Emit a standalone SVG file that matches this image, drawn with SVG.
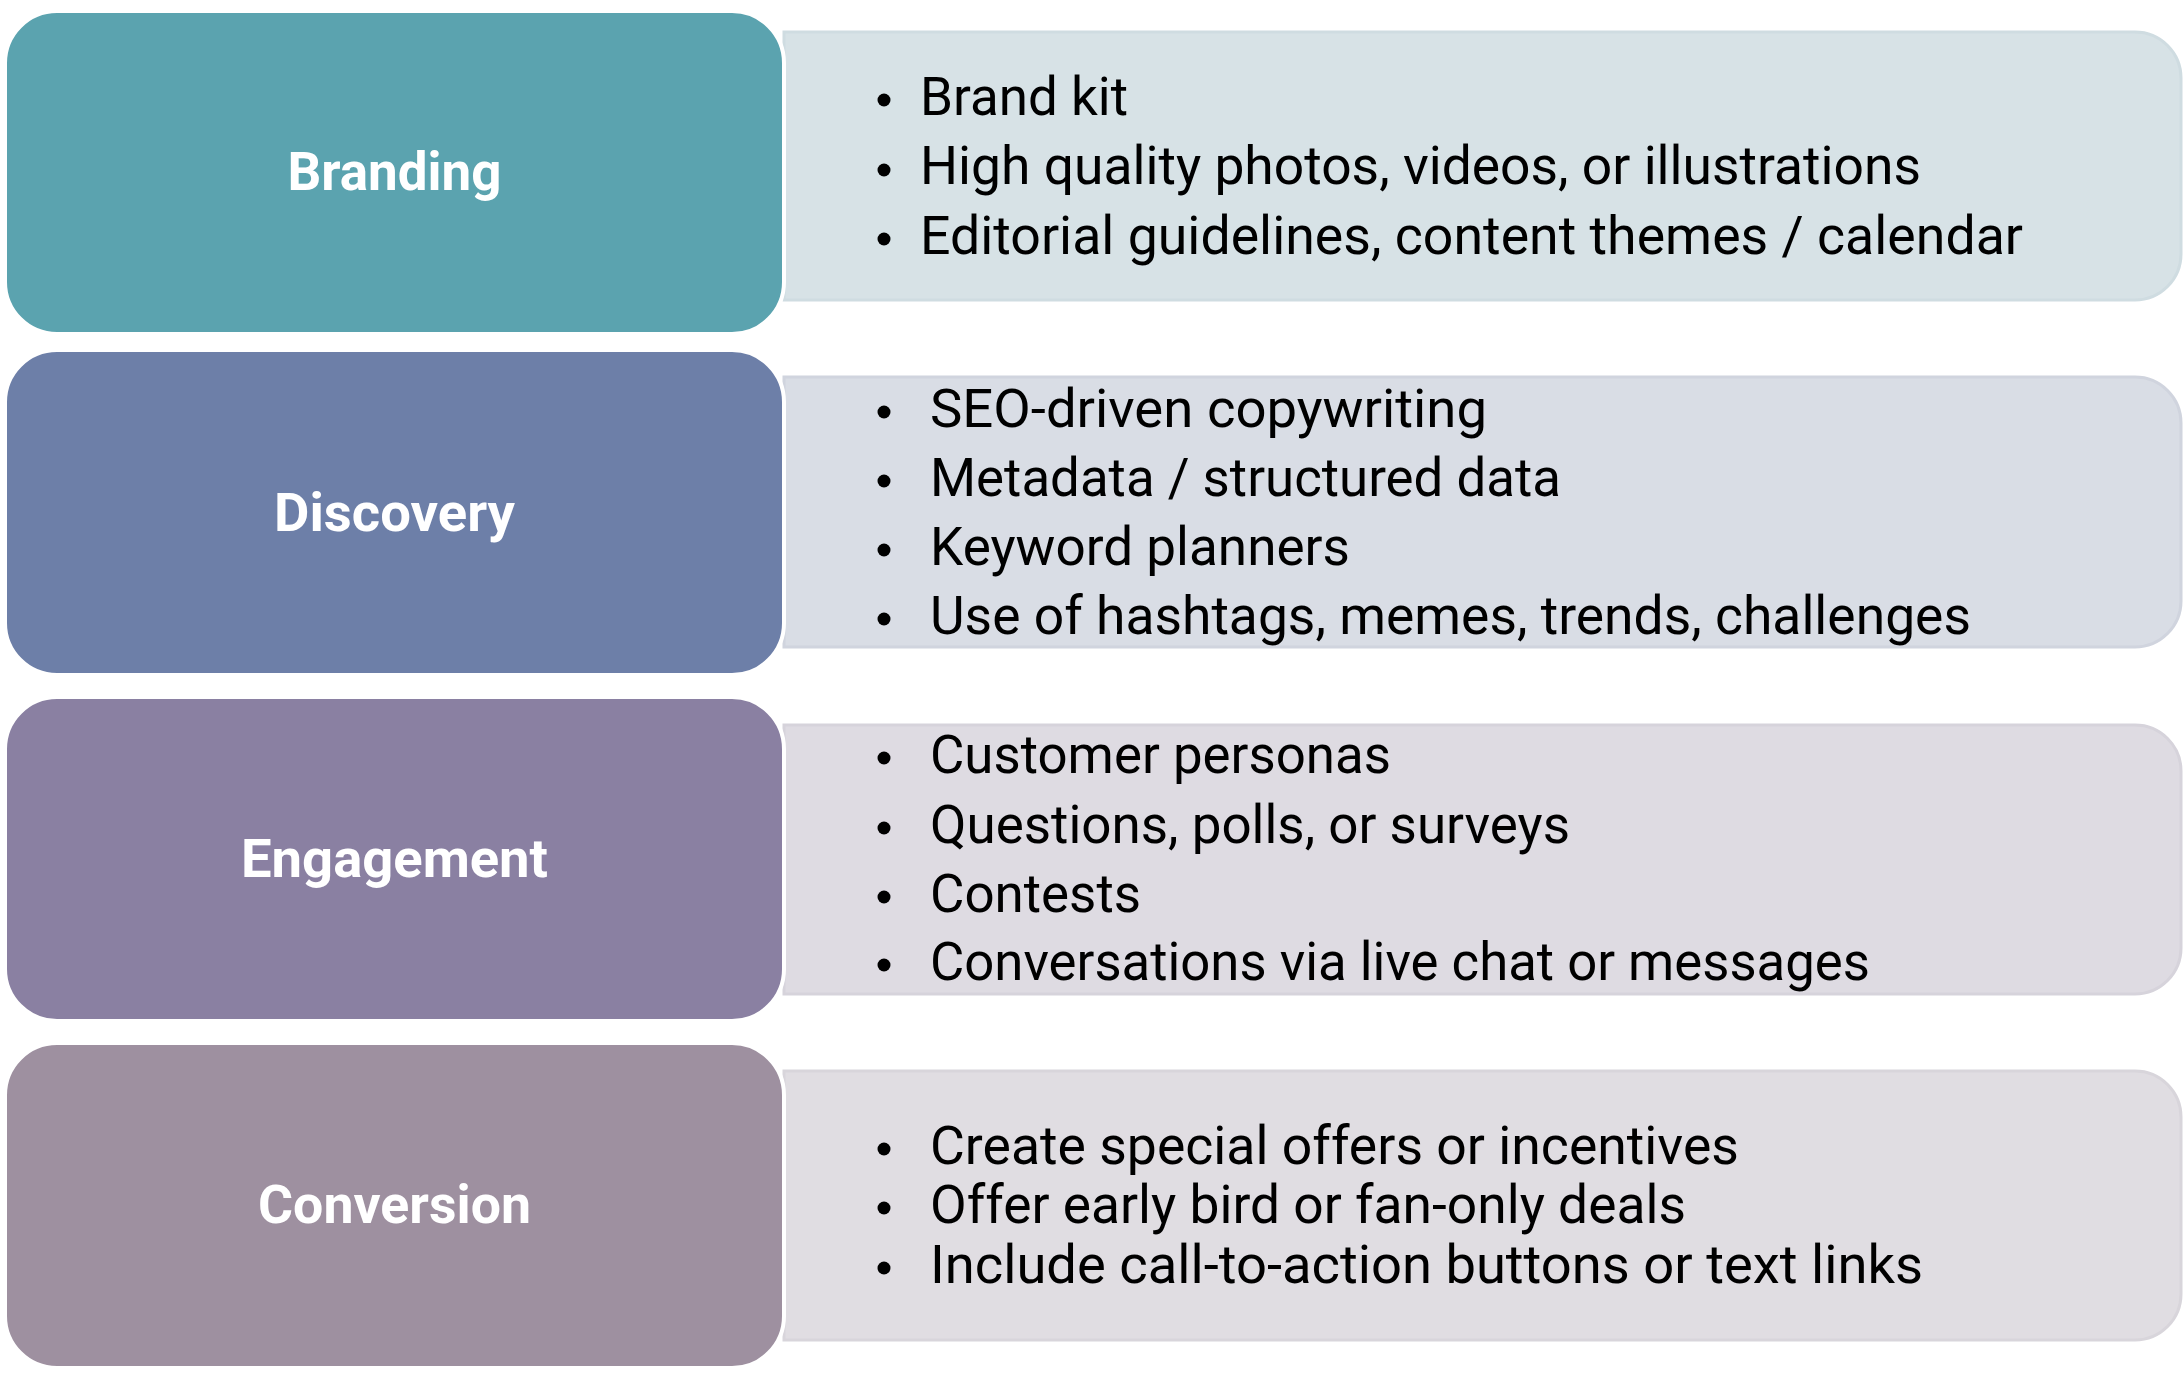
<svg xmlns="http://www.w3.org/2000/svg" width="2184" height="1373" viewBox="0 0 2184 1373">
<style>
.box{stroke:#ffffff;stroke-width:4}
.lbl{font-family:Roboto,"Liberation Sans",sans-serif;font-weight:700;font-size:53px;fill:#ffffff;text-anchor:middle}
.item{font-family:Roboto,"Liberation Sans",sans-serif;font-weight:400;font-size:53px;fill:#000000}
.dot{fill:#000000}
.pnl{stroke-width:3}
</style>
<rect width="2184" height="1373" fill="#ffffff"/>
<g id="connectors"></g>

<g id="branding">
<path class="pnl" d="M784,32 H2135 A46,46 0 0 1 2181,78 V254 A46,46 0 0 1 2135,300 H784 Z" fill="#d7e2e6" stroke="#cfdce1"/>
<rect class="box" x="5" y="11" width="779" height="323" rx="52" fill="#5ba3af"/>
<text class="lbl" x="394.5" y="190" textLength="214" lengthAdjust="spacingAndGlyphs">Branding</text>
<circle class="dot" cx="884" cy="100" r="6.5"/>
<circle class="dot" cx="884" cy="170" r="6.5"/>
<circle class="dot" cx="884" cy="239" r="6.5"/>
<text class="item" x="920" y="115" textLength="208" lengthAdjust="spacingAndGlyphs">Brand kit</text>
<text class="item" x="920" y="184" textLength="1001" lengthAdjust="spacingAndGlyphs">High quality photos, videos, or illustrations</text>
<text class="item" x="920" y="254" textLength="1103" lengthAdjust="spacingAndGlyphs">Editorial guidelines, content themes / calendar</text>
</g>

<g id="discovery">
<path class="pnl" d="M784,377 H2135 A46,46 0 0 1 2181,423 V601 A46,46 0 0 1 2135,647 H784 Z" fill="#d9dde5" stroke="#d0d4de"/>
<rect class="box" x="5" y="350" width="779" height="325" rx="52" fill="#6d7fa8"/>
<text class="lbl" x="394.5" y="531" textLength="241" lengthAdjust="spacingAndGlyphs">Discovery</text>
<circle class="dot" cx="884" cy="412" r="6.5"/>
<circle class="dot" cx="884" cy="481" r="6.5"/>
<circle class="dot" cx="884" cy="550" r="6.5"/>
<circle class="dot" cx="884" cy="619" r="6.5"/>
<text class="item" x="930" y="427" textLength="557" lengthAdjust="spacingAndGlyphs">SEO-driven copywriting</text>
<text class="item" x="930" y="496" textLength="631" lengthAdjust="spacingAndGlyphs">Metadata / structured data</text>
<text class="item" x="930" y="565" textLength="420" lengthAdjust="spacingAndGlyphs">Keyword planners</text>
<text class="item" x="930" y="634" textLength="1041" lengthAdjust="spacingAndGlyphs">Use of hashtags, memes, trends, challenges</text>
</g>

<g id="engagement">
<path class="pnl" d="M784,725 H2135 A46,46 0 0 1 2181,771 V948 A46,46 0 0 1 2135,994 H784 Z" fill="#dedbe2" stroke="#d6d3db"/>
<rect class="box" x="5" y="697" width="779" height="324" rx="52" fill="#8a80a2"/>
<text class="lbl" x="394.5" y="877" textLength="307" lengthAdjust="spacingAndGlyphs">Engagement</text>
<circle class="dot" cx="884" cy="758" r="6.5"/>
<circle class="dot" cx="884" cy="828" r="6.5"/>
<circle class="dot" cx="884" cy="897" r="6.5"/>
<circle class="dot" cx="884" cy="965" r="6.5"/>
<text class="item" x="930" y="773" textLength="461" lengthAdjust="spacingAndGlyphs">Customer personas</text>
<text class="item" x="930" y="843" textLength="640" lengthAdjust="spacingAndGlyphs">Questions, polls, or surveys</text>
<text class="item" x="930" y="912" textLength="211" lengthAdjust="spacingAndGlyphs">Contests</text>
<text class="item" x="930" y="980" textLength="940" lengthAdjust="spacingAndGlyphs">Conversations via live chat or messages</text>
</g>

<g id="conversion">
<path class="pnl" d="M784,1071 H2135 A46,46 0 0 1 2181,1117 V1294 A46,46 0 0 1 2135,1340 H784 Z" fill="#e0dde2" stroke="#d8d5db"/>
<rect class="box" x="5" y="1043" width="779" height="325" rx="52" fill="#9e90a0"/>
<text class="lbl" x="394.5" y="1223" textLength="273" lengthAdjust="spacingAndGlyphs">Conversion</text>
<circle class="dot" cx="884" cy="1149" r="6.5"/>
<circle class="dot" cx="884" cy="1208" r="6.5"/>
<circle class="dot" cx="884" cy="1268" r="6.5"/>
<text class="item" x="930" y="1164" textLength="809" lengthAdjust="spacingAndGlyphs">Create special offers or incentives</text>
<text class="item" x="930" y="1223" textLength="756" lengthAdjust="spacingAndGlyphs">Offer early bird or fan-only deals</text>
<text class="item" x="930" y="1283" textLength="993" lengthAdjust="spacingAndGlyphs">Include call-to-action buttons or text links</text>
</g>
</svg>
